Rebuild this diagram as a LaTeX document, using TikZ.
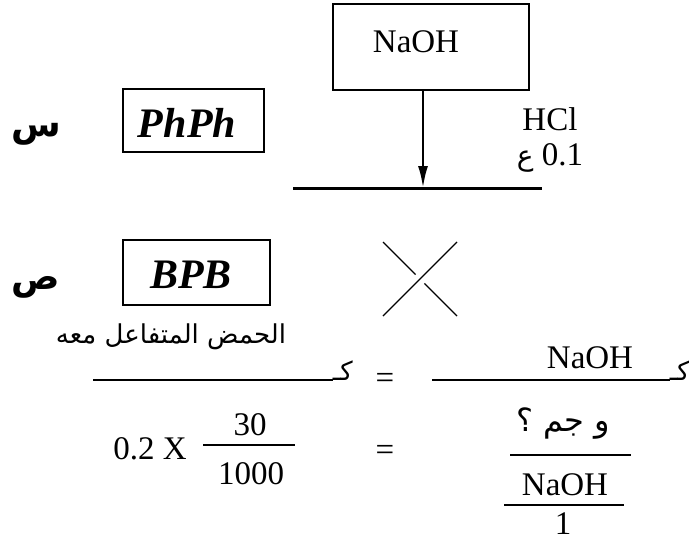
\documentclass[tikz,border=0pt]{standalone}
\usepackage{fontspec}
\setmainfont{Liberation Serif}
\newfontfamily\arabicfont[Script=Arabic]{DejaVu Sans}
\TeXXeTstate=1
\usetikzlibrary{arrows.meta, calc}
\tikzstyle{tbox}=[rectangle, draw, line width=1.3pt, inner sep=0pt]
\tikzstyle{txt}=[font=\fontsize{33}{36}\selectfont, inner sep=0pt]
\tikzstyle{ind}=[font=\fontsize{42}{46}\selectfont\bfseries\itshape, inner sep=0pt]
\tikzstyle{ar}=[font=\fontsize{26}{30}\selectfont\arabicfont, inner sep=0pt]
\tikzstyle{letter}=[font=\fontsize{36}{40}\selectfont\arabicfont\bfseries, inner sep=0pt]
\tikzstyle{bar}=[line width=2pt]
\tikzstyle{garr}=[-{Latex[length=22pt,width=10pt]}, line width=2.5pt]

\begin{document}
\begin{tikzpicture}[x=1pt, y=-1pt]
        \useasboundingbox (0,0) rectangle (689,541);
        % top: titration set-up
        \node[tbox, minimum width=196pt, minimum height=86pt] (naohbox) at (431,47) {};
        \node[txt] (naoh) at (416,42) {NaOH};
        \node[tbox, minimum width=141pt, minimum height=63pt] (phph) at (193.5,120.5) {};
        \node[ind] (phphtxt) at (187,123) {PhPh};
        \node[letter] (sin) at (36,134) {\beginR س\endR};
        \node[txt] (hcl) at (550,119) {HCl};
        \node[txt] (conc) at (550,158) {\beginR\beginL 0.1\endL{} {\arabicfont\fontsize{28}{32}\selectfont ع}\endR};
        \coordinate (tip) at (423,188);
        \coordinate (baseL) at (293,188);
        \coordinate (baseR) at (542,188);
        \draw[line width=3pt] (baseL) -- (baseR);
        \draw[garr] (naohbox.south -| tip) -- (tip);
        % second indicator
        \node[tbox, minimum width=147pt, minimum height=65pt] (bpb) at (196.5,272.5) {};
        \node[ind] (bpbtxt) at (191,275) {BPB};
        \node[letter] (sad) at (36,287) {\beginR ص\endR};
        \coordinate (xa) at (383,242);
        \coordinate (xb) at (457,316);
        \coordinate (xc) at (457,242);
        \coordinate (xd) at (383,316);
        \draw[line width=1.3pt] (xc) -- (xd);
        \draw[line width=1.3pt] (xa) -- ($(xa)!0.44!(xb)$);
        \draw[line width=1.3pt] ($(xa)!0.56!(xb)$) -- (xb);
        % equation
        \node[ar] (acid) at (171,337) {\beginR الحمض المتفاعل معه\endR};
        \node[ar, anchor=base east] (kaf1) at (353,380) {\beginR كـ\endR};
        \draw[bar] (93,380) -- (kaf1.base west);
        \node[txt] (eq1) at (385,381) {=};
        \node[txt] (naoh2) at (590,358) {NaOH};
        \node[ar, anchor=base east] (kaf2) at (690,380) {\beginR كـ\endR};
        \draw[bar] (432,380) -- (kaf2.base west);
        \node[txt] (coef) at (150,449) {0.2 X};
        \node[txt] (num1) at (250,425) {30};
        \draw[bar] (203,445) -- (295,445);
        \node[txt] (den1) at (251,474) {1000};
        \node[txt] (eq2) at (385,453) {=};
        \node[ar, font=\fontsize{32}{36}\selectfont\arabicfont] (mass) at (563,424) {\beginR و جم ؟\endR};
        \draw[bar] (510,455) -- (631,455);
        \node[txt] (naoh3) at (565,485) {NaOH};
        \draw[bar] (504,505) -- (624,505);
        \node[txt] (one) at (563,524) {1};
      \end{tikzpicture}
\end{document}
